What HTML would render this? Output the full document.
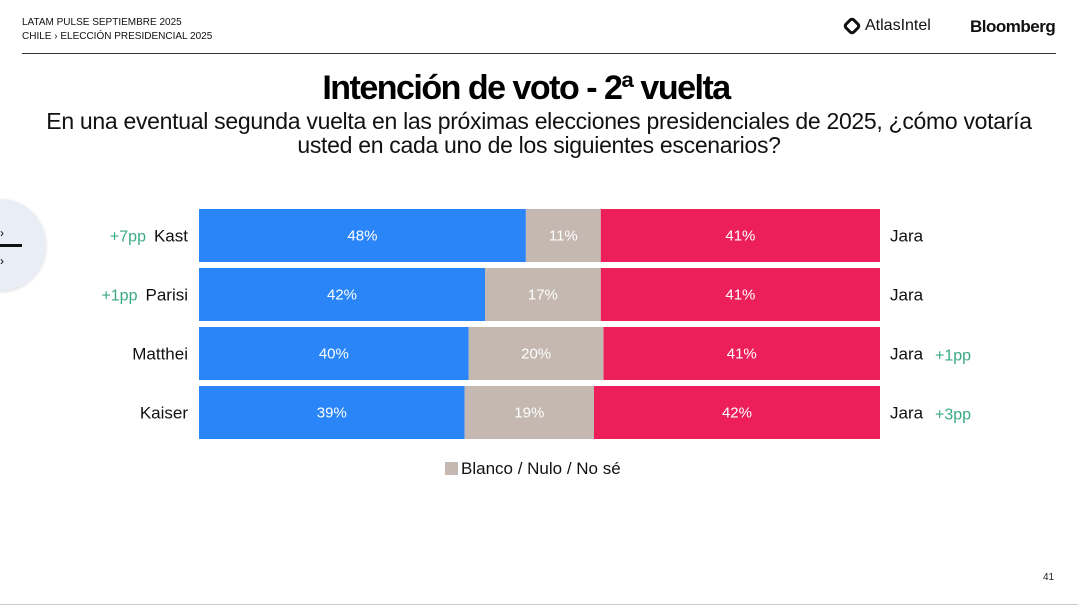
<!DOCTYPE html>
<html><head><meta charset="utf-8"><style>
body{margin:0;width:1078px;height:609px;background:#fff;font-family:"Liberation Sans",sans-serif;position:relative;overflow:hidden}
.a{position:absolute;white-space:nowrap}
</style></head><body>
<div class="a" style="left:22px;top:16px;font-size:10px;line-height:14px;color:#111">LATAM PULSE SEPTIEMBRE 2025<br>CHILE › ELECCIÓN PRESIDENCIAL 2025</div>
<div class="a" style="left:845px;top:17px;font-size:16px;color:#111"><span style="display:inline-block;width:14px;height:14px;border:3px solid #111;transform:rotate(45deg);vertical-align:-3px;margin-right:6px;box-sizing:border-box;border-radius:4px"></span>AtlasIntel</div>
<div class="a" style="left:970px;top:17px;font-size:17px;font-weight:bold;color:#111;letter-spacing:-0.5px">Bloomberg</div>
<div class="a" style="left:22px;top:53px;width:1034px;height:1px;background:#333"></div>
<div class="a" style="left:0;width:1052px;top:69px;text-align:center;font-size:34px;font-weight:bold;letter-spacing:-1.5px;color:#000">Intención de voto - 2ª vuelta</div>
<div class="a" style="left:0;width:1078px;top:109px;text-align:center;font-size:23px;line-height:24px;color:#111;letter-spacing:-0.3px">En una eventual segunda vuelta en las próximas elecciones presidenciales de 2025, ¿cómo votaría<br>usted en cada uno de los siguientes escenarios?</div>
<div class="a" style="left:-46px;top:199px;width:92px;height:92px;border-radius:50%;background:#e9eef6;box-shadow:0 1px 3px rgba(0,0,0,.15)"><div style="position:absolute;left:46px;top:45px;width:22px;height:3px;background:#111"></div><div style="position:absolute;left:46px;top:28px;font-size:12px;line-height:12px">›</div><div style="position:absolute;left:46px;top:56px;font-size:12px;line-height:12px">›</div></div>
<svg id="chart" class="a" style="left:0;top:0" width="1078" height="609"></svg>
<div class="a" style="left:445px;top:459px;font-size:17px;color:#111"><span style="display:inline-block;width:13px;height:13px;background:#c4b8b0;vertical-align:-1px;margin-right:3px"></span>Blanco / Nulo / No sé</div>
<div class="a" style="left:1043px;top:572px;font-size:10px;color:#222">41</div>
<div class="a" style="left:0;top:604px;width:1078px;height:1px;background:#ccc"></div>
<script>
const candidates=["Kast","Parisi","Matthei","Kaiser"];
const leftVals=[48,42,40,39];
const blankVals=[11,17,20,19];
const jaraVals=[41,41,41,42];
const leftDelta=["+7pp","+1pp","",""];
const rightDelta=["","","+1pp","+3pp"];
const svg=document.getElementById('chart');
const NS='http://www.w3.org/2000/svg';
const X0=199,W=681,Y0=209,BH=53,STEP=59;
function mk(t,a){const e=document.createElementNS(NS,t);for(const k in a)e.setAttribute(k,a[k]);svg.appendChild(e);return e;}
candidates.forEach((c,i)=>{
 const tot=leftVals[i]+blankVals[i]+jaraVals[i];
 const sx=v=>v/tot*W;
 const y=Y0+i*STEP;
 const segs=[[leftVals[i],'#2a85f8','blue'],[blankVals[i],'#c4b8b0','blank'],[jaraVals[i],'#ec1f5a','jara']];
 let x=X0;
 segs.forEach(s=>{
  const w=sx(s[0]);
  const r=mk('rect',{x:x,y:y,width:w,height:BH,fill:s[1]});
  
  
  const t=mk('text',{x:x+w/2,y:y+BH/2+5,'text-anchor':'middle','font-size':15,fill:'#fff','font-family':'Liberation Sans, sans-serif'});
  t.textContent=s[0]+'%';
  
  
  x+=w;
 });
 const l=mk('text',{x:188,y:y+BH/2+6,'text-anchor':'end','font-size':17,fill:'#111','font-family':'Liberation Sans, sans-serif'});
 l.textContent=c;
 
 
 if(leftDelta[i]){const lw=l.getComputedTextLength();const d=mk('text',{x:188-lw-8,y:y+BH/2+6,'text-anchor':'end','font-size':16,fill:'#3aaa85','font-family':'Liberation Sans, sans-serif'});d.textContent=leftDelta[i];
 
 }
 const j=mk('text',{x:890,y:y+BH/2+6,'font-size':17,fill:'#111','font-family':'Liberation Sans, sans-serif'});
 j.textContent='Jara';
 
 
 if(rightDelta[i]){const d=mk('text',{x:935,y:y+BH/2+7,'font-size':16,fill:'#3aaa85','font-family':'Liberation Sans, sans-serif'});d.textContent=rightDelta[i];
 
 }
});
</script>
</body></html>
